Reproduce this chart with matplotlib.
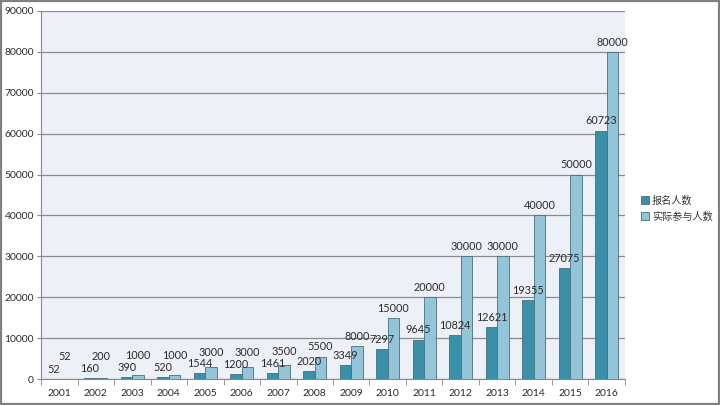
import numpy as np
import matplotlib.pyplot as plt
from matplotlib.patches import Rectangle

# chart data
years = ['2001', '2002', '2003', '2004', '2005', '2006', '2007', '2008',
         '2009', '2010', '2011', '2012', '2013', '2014', '2015', '2016']
registered = [52, 160, 390, 520, 1544, 1200, 1461, 2020,
              3349, 7297, 9645, 10824, 12621, 19355, 27075, 60723]
participated = [52, 200, 1000, 1000, 3000, 3000, 3500, 5500,
                8000, 15000, 20000, 30000, 30000, 40000, 50000, 80000]
series_names = ['报名人数', '实际参与人数']

plt.rcParams['font.family'] = ['Lato', 'DejaVu Sans']

dark = '#3b90a9'
light = '#93c4d7'
edge = '#4a6e7a'

fig = plt.figure(figsize=(7.2, 4.05), dpi=100)
ax = fig.add_axes([0.057, 0.064, 0.811, 0.909])
ax.set_facecolor('#edf0f7')

x = np.arange(len(years))
w = 0.31
b1 = ax.bar(x - w / 2, registered, w, color=dark, edgecolor=edge, linewidth=0.6, zorder=3)
b2 = ax.bar(x + w / 2, participated, w, color=light, edgecolor=edge, linewidth=0.6, zorder=3)

# value labels above bars
for xi, v in zip(x, registered):
    ax.annotate(str(v), (xi - w / 2, v), xytext=(0, 7), textcoords='offset points',
                ha='center', va='center', fontsize=7.8, color='#2b2b2b', zorder=4)
for xi, v in zip(x, participated):
    h_px = v / 90000 * 368
    y_off = max(9.7, 22 - 0.6 * h_px) * 0.72  # px -> points
    ax.annotate(str(v), (xi + w / 2, v), xytext=(0, y_off), textcoords='offset points',
                ha='center', va='center', fontsize=7.8, color='#2b2b2b', zorder=4)

ax.set_xlim(-0.5, len(years) - 0.5)
ax.set_ylim(0, 90000)
ax.set_yticks(np.arange(0, 90001, 10000))
ax.tick_params(axis='y', labelsize=7.5, length=3, color='#888888', labelcolor='#2b2b2b', pad=2)
ax.set_xticks(x)
ax.set_xticklabels(years)
ax.set_xticks(np.arange(-0.5, len(years), 1), minor=True)
ax.tick_params(axis='x', which='major', length=0, labelsize=7.5, labelcolor='#2b2b2b', pad=7)
ax.tick_params(axis='x', which='minor', length=4, color='#888888')
ax.grid(axis='y', color='#8c8c8c', linewidth=0.9, zorder=0)

for s in ['top', 'right']:
    ax.spines[s].set_visible(False)
ax.spines['left'].set_color('#888888')
ax.spines['bottom'].set_color('#888888')

fig.legend([b1, b2], series_names, loc='upper left', bbox_to_anchor=(0.878, 0.54),
           frameon=False, handlelength=0.75, handleheight=0.75, handletextpad=0.3,
           labelspacing=0.55, prop={'family': ['Noto Sans CJK SC', 'DejaVu Sans'], 'size': 7.3},
           labelcolor='#333333')

# outer frame
fig.patches.append(Rectangle((0.001, 0.002), 0.997, 0.995, transform=fig.transFigure,
                             fill=False, edgecolor='#808080', linewidth=1.6))

fig.savefig('out.png', dpi=100)
